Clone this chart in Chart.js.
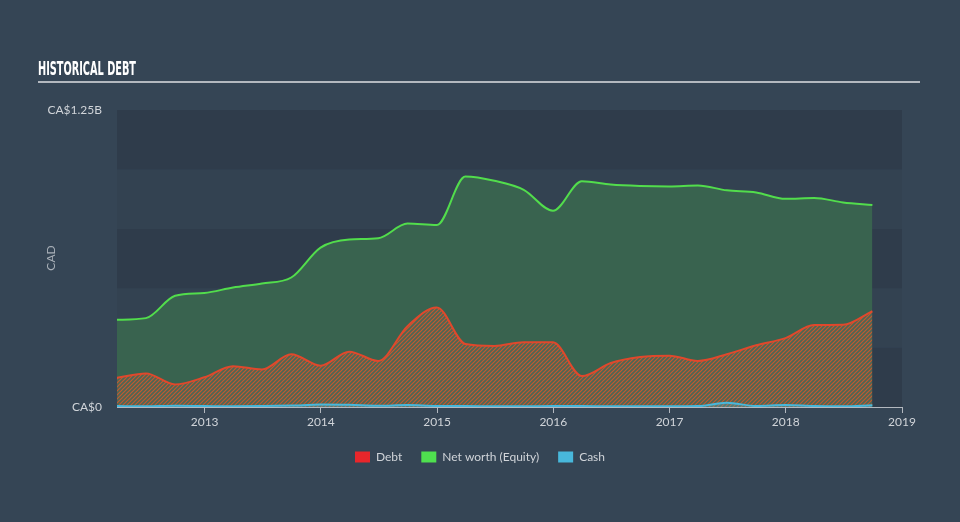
<!DOCTYPE html>
<html>
<head>
<meta charset="utf-8">
<script src="https://cdn.jsdelivr.net/npm/chart.js@4.4.0/dist/chart.umd.min.js"></script>
<style>
  html, body { margin: 0; padding: 0; background: #354555; }
  #wrap { width: 960px; height: 522px; }
</style>
</head>
<body>
<div id="wrap"><canvas id="myChart" width="960" height="522"></canvas></div>
<script>
// quarter end dates (CA$ billions)
const dates = ['2012-03-31','2012-06-30','2012-09-30','2012-12-31',
  '2013-03-31','2013-06-30','2013-09-30','2013-12-31',
  '2014-03-31','2014-06-30','2014-09-30','2014-12-31',
  '2015-03-31','2015-06-30','2015-09-30','2015-12-31',
  '2016-03-31','2016-06-30','2016-09-30','2016-12-31',
  '2017-03-31','2017-06-30','2017-09-30','2017-12-31',
  '2018-03-31','2018-06-30','2018-09-30'];

const debt = [0.123, 0.141, 0.095, 0.125, 0.172, 0.158, 0.222, 0.174,
  0.233, 0.194, 0.34, 0.419, 0.265, 0.257, 0.273, 0.272,
  0.13, 0.185, 0.21, 0.216, 0.194, 0.222, 0.26, 0.29,
  0.345, 0.346, 0.403];

const equity = [0.367, 0.374, 0.468, 0.48, 0.503, 0.52, 0.545, 0.671,
  0.705, 0.71, 0.772, 0.766, 0.97, 0.952, 0.914, 0.826,
  0.95, 0.936, 0.93, 0.928, 0.932, 0.912, 0.903, 0.876,
  0.88, 0.861, 0.85];

const cash = [0.004, 0.003, 0.005, 0.004, 0.003, 0.004, 0.006, 0.01,
  0.009, 0.005, 0.008, 0.004, 0.004, 0.003, 0.003, 0.004,
  0.004, 0.003, 0.003, 0.003, 0.004, 0.018, 0.004, 0.008,
  0.004, 0.003, 0.007];

const yearTicks = [2013, 2014, 2015, 2016, 2017, 2018, 2019];
const yTicks = [0, 1.25];
const bandSteps = [0, 0.25, 0.5, 0.75, 1, 1.25];

function toYear(d) {
  const t = new Date(d + 'T00:00:00Z');
  const y = t.getUTCFullYear();
  const start = Date.UTC(y, 0, 1), end = Date.UTC(y + 1, 0, 1);
  return y + (t - start) / (end - start);
}
const xs = dates.map(toYear);
const pts = arr => arr.map((v, i) => ({x: xs[i], y: v}));

// hatch pattern for debt area
function makeHatch() {
  const c = document.createElement('canvas');
  c.width = 4; c.height = 4;
  const g = c.getContext('2d');
  g.fillStyle = '#4c6654';
  g.fillRect(0, 0, 4, 4);
  g.strokeStyle = '#c25a30';
  g.lineWidth = 1.2;
  g.beginPath();
  g.moveTo(-1, 5); g.lineTo(5, -1);
  g.moveTo(-1, 1); g.lineTo(1, -1);
  g.moveTo(3, 5); g.lineTo(5, 3);
  g.stroke();
  return g.createPattern(c, 'repeat');
}

const bgPlugin = {
  id: 'bg',
  beforeDraw(chart) {
    const ctx = chart.ctx;
    const a = chart.chartArea;
    const y = chart.scales.y;
    ctx.save();
    ctx.fillStyle = '#354555';
    ctx.fillRect(0, 0, chart.width, chart.height);
    // bands
    for (let i = 0; i < bandSteps.length - 1; i++) {
      const y0 = y.getPixelForValue(bandSteps[i]);
      const y1 = y.getPixelForValue(bandSteps[i + 1]);
      ctx.fillStyle = i % 2 === 0 ? '#2f3c4b' : '#334251';
      ctx.fillRect(a.left, y1, a.right - a.left, y0 - y1);
    }
    // title
    ctx.fillStyle = '#ffffff';
    ctx.font = 'bold 20px "Liberation Sans Narrow", "DejaVu Sans Condensed", sans-serif';
    ctx.textBaseline = 'alphabetic';
    const txt = 'HISTORICAL DEBT';
    const w = ctx.measureText(txt).width;
    ctx.translate(38, 75);
    ctx.scale(98 / w, 1);
    ctx.fillText(txt, 0, 0);
    ctx.restore();
    ctx.save();
    ctx.fillStyle = '#b3b8bf';
    ctx.fillRect(38, 81, 882, 2);
    // axis title
    ctx.translate(51, 258);
    ctx.rotate(-Math.PI / 2);
    ctx.fillStyle = '#a9b0b8';
    ctx.font = '12px Lato, sans-serif';
    ctx.textAlign = 'center';
    ctx.textBaseline = 'middle';
    ctx.fillText('CAD', 0, 0);
    ctx.restore();
  }
};

const data = {
  datasets: [
    {
      label: 'Debt',
      data: pts(debt),
      borderColor: '#e0482c',
      backgroundColor: makeHatch(),
      fill: 'origin',
      borderWidth: 2,
      order: 1
    },
    {
      label: 'Net worth (Equity)',
      data: pts(equity),
      borderColor: '#52dd4c',
      backgroundColor: 'rgba(58, 100, 80, 0.97)',
      fill: 'origin',
      borderWidth: 2,
      order: 2
    },
    {
      label: 'Cash',
      data: pts(cash),
      borderColor: '#48b8dc',
      backgroundColor: 'rgba(72, 184, 220, 0.3)',
      fill: 'origin',
      borderWidth: 2,
      order: 0
    }
  ]
};

const legendColors = ['#e8262b', '#4fe04f', '#48b8dc'];
const tickFont = { size: 12, family: 'Lato, sans-serif' };

const config = {
  type: 'line',
  data: data,
  plugins: [bgPlugin],
  options: {
    responsive: false,
    animation: false,
    layout: { padding: { left: 0, right: 0, top: 110, bottom: 49 } },
    elements: {
      point: { radius: 0 },
      line: { cubicInterpolationMode: 'monotone' }
    },
    scales: {
      x: {
        type: 'linear',
        min: xs[0],
        max: 2019,
        afterBuildTicks: axis => { axis.ticks = yearTicks.map(v => ({value: v})); },
        afterFit: axis => { axis.height = 25; },
        grid: { display: true, drawOnChartArea: false, drawTicks: true, tickLength: 6, color: '#b3b8bf' },
        border: { display: true, color: '#b3b8bf', width: 1 },
        ticks: {
          color: '#d0d4d9',
          font: tickFont,
          padding: 2,
          maxRotation: 0,
          callback: v => String(v)
        }
      },
      y: {
        min: 0,
        max: 1.25,
        afterBuildTicks: axis => { axis.ticks = yTicks.map(v => ({value: v})); },
        afterFit: axis => { axis.width = 117; },
        grid: { display: false },
        border: { display: false },
        ticks: {
          color: '#d0d4d9',
          font: tickFont,
          padding: 7,
          callback: v => v === 0 ? 'CA$0' : 'CA$1.25B'
        }
      },
      pad: {
        position: 'right',
        min: 0,
        max: 1,
        afterFit: axis => { axis.width = 58; },
        grid: { display: false },
        border: { display: false },
        ticks: { display: false }
      }
    },
    plugins: {
      tooltip: { enabled: false },
      legend: {
        position: 'bottom',
        labels: {
          boxWidth: 15,
          boxHeight: 11,
          padding: 19,
          color: '#d0d4d9',
          font: tickFont,
          generateLabels: chart => chart.data.datasets.map((ds, i) => ({
            text: ds.label,
            fillStyle: legendColors[i],
            strokeStyle: legendColors[i],
            lineWidth: 0,
            fontColor: '#d0d4d9',
            datasetIndex: i,
            hidden: false
          })),
          sort: (a, b) => a.datasetIndex - b.datasetIndex
        }
      }
    }
  }
};

const myChart = new Chart(document.getElementById('myChart'), config);
</script>
</body>
</html>
